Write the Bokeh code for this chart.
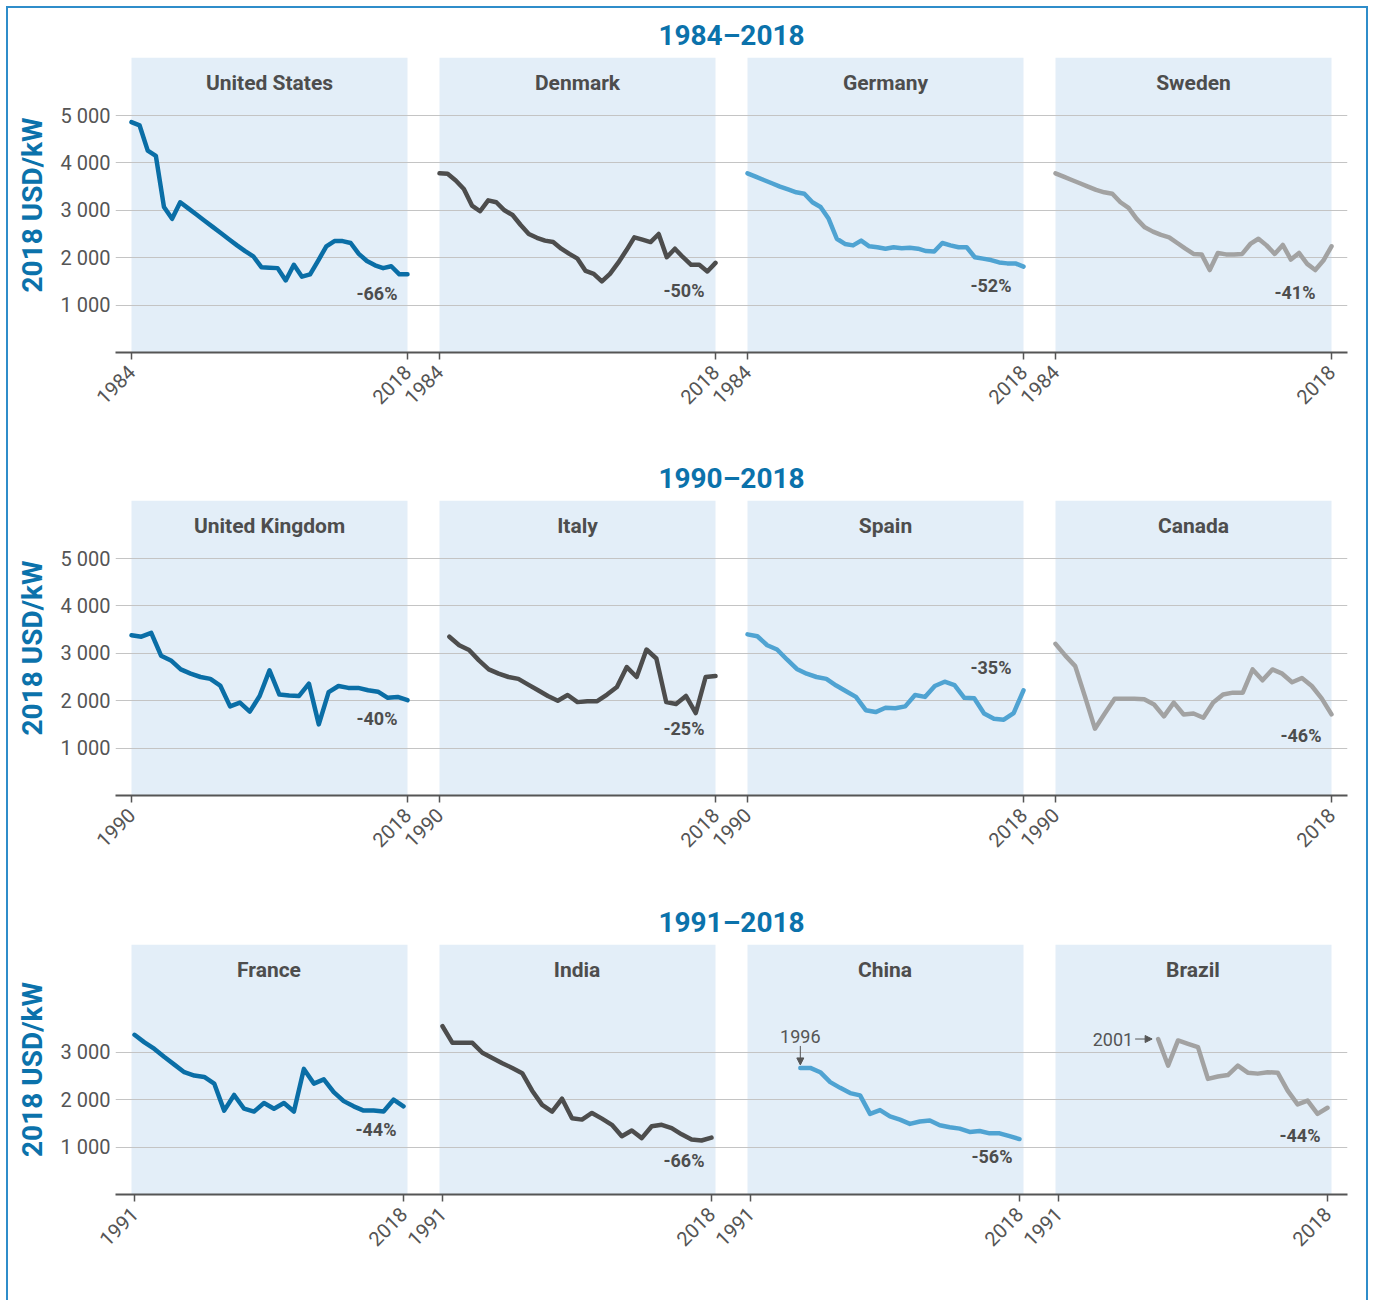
import math
from bokeh.plotting import figure
from bokeh.layouts import column
from bokeh.models import Range1d, FixedTicker, BoxAnnotation, Label, Arrow, NormalHead
from bokeh.embed import file_html
from bokeh.resources import INLINE

# ---------------- data ----------------
row_titles = ["1984–2018", "1990–2018", "1991–2018"]
row_periods = [(1984, 2018), (1990, 2018), (1991, 2018)]
row_countries = [
    ["United States", "Denmark", "Germany", "Sweden"],
    ["United Kingdom", "Italy", "Spain", "Canada"],
    ["France", "India", "China", "Brazil"],
]
row_pct = [
    ["-66%", "-50%", "-52%", "-41%"],
    ["-40%", "-25%", "-35%", "-46%"],
    ["-44%", "-66%", "-56%", "-44%"],
]
ytick_values = [[1000, 2000, 3000, 4000, 5000], [1000, 2000, 3000, 4000, 5000], [1000, 2000, 3000]]
ytick_labels = [["1 000", "2 000", "3 000", "4 000", "5 000"],
                ["1 000", "2 000", "3 000", "4 000", "5 000"],
                ["1 000", "2 000", "3 000"]]
y_axis_title = "2018 USD/kW"

us_start = 1984
us_values = [4860, 4790, 4260, 4150, 3070, 2820, 3170, 3040, 2910, 2780,
             2650, 2520, 2390, 2260, 2140, 2030, 1800, 1790, 1780, 1520,
             1850, 1600, 1650, 1940, 2240, 2350, 2350, 2310, 2080, 1930,
             1840, 1780, 1820, 1650, 1650]
denmark_start = 1984
denmark_values = [3780, 3770, 3630, 3450, 3100, 2980, 3210, 3170, 3000, 2900,
                  2690, 2500, 2420, 2360, 2330, 2190, 2080, 1980, 1720, 1660,
                  1500, 1660, 1890, 2150, 2430, 2380, 2330, 2500, 2010, 2190,
                  2010, 1850, 1850, 1710, 1890]
germany_start = 1984
germany_values = [3780, 3710, 3640, 3570, 3500, 3440, 3380, 3350, 3170, 3070,
                  2820, 2400, 2290, 2260, 2360, 2240, 2220, 2190, 2220, 2200,
                  2210, 2190, 2140, 2130, 2310, 2260, 2220, 2220, 2010, 1980,
                  1950, 1900, 1880, 1880, 1810]
sweden_start = 1984
sweden_values = [3780, 3710, 3640, 3570, 3500, 3430, 3380, 3350, 3170, 3050,
                 2820, 2640, 2550, 2480, 2430, 2310, 2190, 2080, 2070, 1740,
                 2100, 2070, 2070, 2080, 2290, 2400, 2260, 2080, 2270, 1960,
                 2100, 1870, 1740, 1940, 2240]
uk_start = 1990
uk_values = [3380, 3350, 3430, 2950, 2850, 2660, 2570, 2500, 2460, 2320,
             1880, 1960, 1770, 2100, 2640, 2130, 2110, 2100, 2360, 1500,
             2180, 2310, 2270, 2270, 2220, 2190, 2060, 2080, 2010]
italy_start = 1991
italy_values = [3350, 3170, 3070, 2850, 2660, 2570, 2500, 2460, 2340, 2220,
                2100, 2000, 2120, 1970, 1990, 1990, 2130, 2290, 2710, 2500,
                3080, 2890, 1970, 1930, 2100, 1740, 2500, 2520]
spain_start = 1990
spain_values = [3400, 3360, 3170, 3080, 2870, 2670, 2570, 2500, 2460, 2320,
                2200, 2080, 1800, 1760, 1850, 1840, 1880, 2120, 2080, 2310,
                2400, 2330, 2060, 2050, 1730, 1620, 1600, 1740, 2220]
canada_start = 1990
canada_values = [3200, 2950, 2730, 2080, 1410, 1730, 2040, 2040, 2040, 2030,
                 1920, 1670, 1960, 1710, 1730, 1640, 1960, 2130, 2170, 2170,
                 2660, 2430, 2660, 2570, 2390, 2480, 2310, 2050, 1710]
france_start = 1991
france_values = [3370, 3210, 3070, 2900, 2740, 2580, 2510, 2480, 2340, 1770,
                 2100, 1810, 1750, 1930, 1810, 1930, 1750, 2650, 2340, 2430,
                 2160, 1970, 1860, 1770, 1770, 1750, 2000, 1860]
india_start = 1991
india_values = [3550, 3200, 3200, 3200, 2990, 2880, 2770, 2670, 2560, 2190,
                1890, 1750, 2020, 1610, 1580, 1720, 1600, 1470, 1230, 1350,
                1190, 1440, 1470, 1400, 1270, 1160, 1140, 1200]
china_start = 1996
china_values = [2670, 2670, 2580, 2370, 2250, 2140, 2090, 1700, 1780, 1650,
                1580, 1490, 1540, 1560, 1460, 1420, 1390, 1320, 1340, 1290,
                1290, 1230, 1170]
brazil_start = 2001
brazil_values = [3280, 2720, 3250, 3180, 3110, 2440, 2490, 2520, 2720, 2570,
                 2550, 2580, 2570, 2190, 1900, 1980, 1700, 1830]

series = [
    [(us_start, us_values), (denmark_start, denmark_values), (germany_start, germany_values), (sweden_start, sweden_values)],
    [(uk_start, uk_values), (italy_start, italy_values), (spain_start, spain_values), (canada_start, canada_values)],
    [(france_start, france_values), (india_start, india_values), (china_start, china_values), (brazil_start, brazil_values)],
]

# ---------------- styling / layout ----------------
col_colors = ["#0a6ea6", "#4d4d4d", "#4fa3d2", "#a2a2a2"]
BLUE = "#0b72ab"
TEXT = "#4d4d4d"
AXIS = "#555555"
BG = "#e3eef8"
GRID = "#c4c4c4"
FONT = "Roboto"

PX_PER_UNIT = 47.4 / 1000.0
FRAME_W = 308            # width of one panel (px)
LEFT_B = 107
RIGHT_B = 19
TOTAL_W = LEFT_B + 4 * FRAME_W + RIGHT_B
frame_h = [295, 295, 250]
bottom_b = [100, 100, 106]
title_h = [49, 48, 49]
tick_px = [(16, 292), (16, 292), (19, 288)]
bg_px = (16, 292)
pct_y = [[1238, 1308, 1413, 1259], [1618, 1407, 2694, 1266], [1365, 717, 802, 1245]]
pct_dx = [[-10, -11, -12, -16], [-10, -11, -12, -10], [-7, -7, -7, -7]]


def row_fig(r):
    start, end = row_periods[r]
    tl, tr = tick_px[r]
    scale = (tr - tl) / (end - start)      # px per year
    P = FRAME_W / scale                     # years spanned by one panel
    x0 = start - tl / scale
    x1 = x0 + 4 * P
    y_end = frame_h[r] / PX_PER_UNIT
    p = figure(width=TOTAL_W, height=title_h[r] + frame_h[r] + bottom_b[r],
               x_range=Range1d(x0, x1), y_range=Range1d(0, y_end),
               output_backend="svg", toolbar_location=None,
               min_border_left=LEFT_B, min_border_right=RIGHT_B, min_border_top=title_h[r],
               min_border_bottom=bottom_b[r])
    p.title.text = row_titles[r]
    p.title.align = "center"
    p.title.text_font = FONT
    p.title.text_font_style = "bold"
    p.title.text_font_size = "28px"
    p.title.text_color = BLUE
    p.title.standoff = 12
    p.title.offset = 2
    p.outline_line_color = None
    p.background_fill_color = "white"
    p.border_fill_color = "white"
    p.xgrid.visible = False
    p.ygrid.ticker = FixedTicker(ticks=ytick_values[r])
    p.ygrid.grid_line_color = GRID
    p.ygrid.grid_line_width = 1.2

    ticks = []
    overrides = {}
    for c in range(4):
        off = c * P
        a, b = start + off, end + off
        ticks += [a, b]
        overrides[a] = str(start)
        overrides[b] = str(end)

        p.add_layout(BoxAnnotation(left=x0 + off + bg_px[0] / scale, right=x0 + off + bg_px[1] / scale,
                                   bottom=0, fill_color=BG, fill_alpha=1.0, line_color=None,
                                   level="image"))

        s_start, vals = series[r][c]
        xs = [s_start + i + off for i in range(len(vals))]
        p.line(xs, vals, line_width=4.5, line_color=col_colors[c], line_join="round", line_cap="round")

        p.add_layout(Label(x=(a + b) / 2, y=y_end - 25 / PX_PER_UNIT, text=row_countries[r][c],
                           text_align="center", text_baseline="middle", text_font=FONT,
                           text_font_style="bold", text_font_size="21px", text_color=TEXT))
        p.add_layout(Label(x=b, y=pct_y[r][c], x_offset=pct_dx[r][c], text=row_pct[r][c],
                           text_align="right", text_baseline="middle", text_font=FONT,
                           text_font_style="bold", text_font_size="18px", text_color=TEXT))

        if r == 2 and c == 2:   # China starts in 1996
            p.add_layout(Label(x=xs[0], y=vals[0] + 25 / PX_PER_UNIT, text=str(s_start),
                               text_align="center", text_baseline="bottom",
                               text_font=FONT, text_font_size="18px", text_color=AXIS))
            p.add_layout(Arrow(end=NormalHead(size=7, fill_color=AXIS, line_color=AXIS),
                               x_start=xs[0], y_start=vals[0] + 22 / PX_PER_UNIT,
                               x_end=xs[0], y_end=vals[0] + 3 / PX_PER_UNIT,
                               line_color=AXIS, line_width=1))
        if r == 2 and c == 3:   # Brazil starts in 2001
            p.add_layout(Label(x=xs[0], y=vals[0], x_offset=-25, text=str(s_start),
                               text_align="right", text_baseline="middle",
                               text_font=FONT, text_font_size="18px", text_color=AXIS))
            p.add_layout(Arrow(end=NormalHead(size=7, fill_color=AXIS, line_color=AXIS),
                               x_start=xs[0] - 23 / scale, y_start=vals[0],
                               x_end=xs[0] - 6 / scale, y_end=vals[0],
                               line_color=AXIS, line_width=1))

    xa = p.xaxis[0]
    xa.ticker = FixedTicker(ticks=ticks)
    xa.major_label_overrides = overrides
    xa.axis_line_color = AXIS
    xa.axis_line_width = 2
    xa.major_tick_in = 0
    xa.major_tick_out = 7
    xa.major_tick_line_color = AXIS
    xa.major_tick_line_width = 1.5
    xa.minor_tick_line_color = None
    xa.major_label_orientation = math.pi / 4
    xa.major_label_text_font = FONT
    xa.major_label_text_font_size = "20px"
    xa.major_label_text_color = AXIS
    xa.major_label_standoff = 9

    ya = p.yaxis[0]
    ya.ticker = FixedTicker(ticks=ytick_values[r])
    ya.major_label_overrides = dict(zip(ytick_values[r], ytick_labels[r]))
    ya.axis_line_color = None
    ya.major_tick_line_color = None
    ya.minor_tick_line_color = None
    ya.major_tick_out = 0
    ya.major_tick_in = 0
    ya.major_label_text_font = FONT
    ya.major_label_text_font_size = "20px"
    ya.major_label_text_color = AXIS
    ya.major_label_standoff = 5
    ya.axis_label = y_axis_title
    ya.axis_label_text_font = FONT
    ya.axis_label_text_font_style = "bold"
    ya.axis_label_text_font_size = "28px"
    ya.axis_label_text_color = BLUE
    ya.axis_label_standoff = 9
    return p


layout = column(*[row_fig(r) for r in range(3)],
                styles={"border": "2px solid #2f8dca", "border-bottom": "none",
                        "margin-left": "6px", "margin-top": "6px"})
open("out.html", "w").write(file_html(layout, INLINE))
